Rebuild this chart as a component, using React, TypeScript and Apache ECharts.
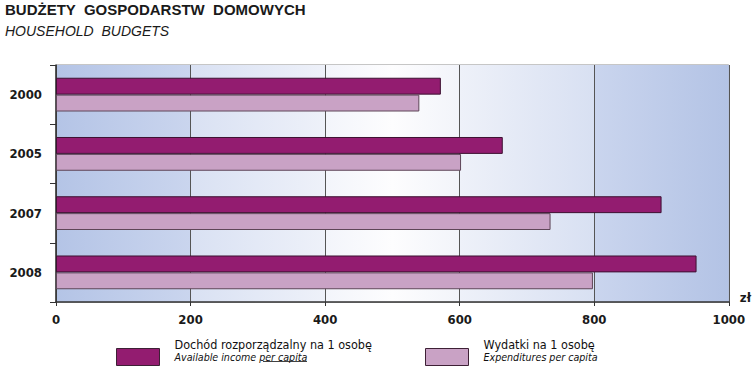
import React, { useEffect, useRef } from "react";
import * as echarts from "echarts";

const years = ["2000", "2005", "2007", "2008"];
const incomeName = "Dochód rozporządzalny na 1 osobę";
const expenseName = "Wydatki na 1 osobę";
const income = [572, 664, 900, 952];
const expenditures = [540, 602, 735, 798];
const xMin = 0;
const xMax = 1000;
const xStep = 200;

const NARROW = "'DejaVu Sans Condensed', 'Liberation Sans Narrow', sans-serif";
const SANS = "'Liberation Sans', Arial, sans-serif";

const grad = (stops: [number, string][]) =>
  new echarts.graphic.LinearGradient(
    0, 0, 1, 0,
    stops.map(([offset, color]) => ({ offset, color }))
  );

export default function App() {
  const ref = useRef<HTMLDivElement>(null);
  useEffect(() => {
    if (!ref.current) return;
    const chart = echarts.init(ref.current, undefined, { renderer: "svg" });
    const legendRich = {
      a: { fontFamily: NARROW, fontSize: 12.5, lineHeight: 13, color: "#111", padding: [0, 0, 0, 10] },
      b: { fontFamily: NARROW, fontSize: 10.6, fontStyle: "italic", lineHeight: 11, color: "#111", padding: [0, 0, 0, 10] },
      c: { fontFamily: NARROW, fontSize: 10.6, fontStyle: "italic", lineHeight: 11, color: "#111" },
    };
    const legendBase = {
      orient: "horizontal",
      icon: "rect",
      itemWidth: 43,
      itemHeight: 17,
      top: 338,
      padding: 0,
      itemStyle: { borderColor: "#3d2035", borderWidth: 1 },
      textStyle: { rich: legendRich, padding: [0, 0, 14, 0] },
      selectedMode: false,
    };
    chart.setOption({
      animation: false,
      backgroundColor: "#ffffff",
      title: {
        text: "BUDŻETY  GOSPODARSTW  DOMOWYCH",
        subtext: "HOUSEHOLD  BUDGETS",
        left: 0,
        top: -3,
        itemGap: 7,
        textStyle: { fontFamily: SANS, fontSize: 15, fontWeight: "bold", color: "#1a1a1a" },
        subtextStyle: { fontFamily: SANS, fontSize: 14, fontStyle: "italic", color: "#1a1a1a" },
      },
      legend: [
        {
          ...legendBase,
          left: 116,
          data: [incomeName],
          formatter: (n: string) => `{a|${n}}\n{b|Available income }{c|per capita}`,
        },
        {
          ...legendBase,
          left: 425,
          data: [expenseName],
          formatter: (n: string) => `{a|${n}}\n{b|Expenditures per capita}`,
        },
      ],
      graphic: [
        {
          type: "line",
          silent: true,
          shape: { x1: 263, y1: 361.5, x2: 307, y2: 361.5 },
          style: { stroke: "#111", lineWidth: 0.8 },
        },
      ],
      grid: {
        left: 56,
        right: 21,
        top: 65,
        bottom: 70,
        show: true,
        borderColor: "#8c8c8c",
        borderWidth: 1,
        backgroundColor: "transparent",
      },
      xAxis: {
        type: "value",
        min: xMin,
        max: xMax,
        interval: xStep,
        name: "zł",
        nameLocation: "end",
        nameGap: 11,
        nameTextStyle: {
          fontFamily: NARROW,
          fontSize: 13,
          fontWeight: "bold",
          color: "#1a1a1a",
          verticalAlign: "bottom",
          lineHeight: 9,
        },
        axisLine: { show: true, lineStyle: { color: "#333", width: 1.5 } },
        axisTick: { show: true, length: 4, lineStyle: { color: "#333" } },
        axisLabel: {
          fontFamily: NARROW,
          fontSize: 13,
          fontWeight: "bold",
          color: "#1a1a1a",
          margin: 11,
          formatter: (v: number) => String(v),
        },
        splitLine: { show: true, lineStyle: { color: "#555", width: 1 } },
        splitArea: {
          show: true,
          areaStyle: {
            color: [
              grad([[0, "#b4c4e6"], [1, "#cad5ee"]]),
              grad([[0, "#d9e1f3"], [1, "#eef1f9"]]),
              grad([[0, "#f3f5fb"], [0.5, "#fdfdfe"], [1, "#f2f4fa"]]),
              grad([[0, "#eef1f9"], [1, "#d8e0f2"]]),
              grad([[0, "#cad5ee"], [1, "#b3c3e5"]]),
            ],
          },
        },
      },
      yAxis: {
        type: "category",
        data: years,
        inverse: true,
        axisLine: { show: true, lineStyle: { color: "#333", width: 1.5 } },
        axisTick: { show: true, length: 6, lineStyle: { color: "#333" } },
        axisLabel: {
          fontFamily: NARROW,
          fontSize: 13,
          fontWeight: "bold",
          color: "#1a1a1a",
          margin: 14,
        },
        splitLine: { show: false },
      },
      series: [
        {
          name: incomeName,
          type: "bar",
          data: income,
          barGap: "0%",
          barCategoryGap: "43%",
          itemStyle: { color: "#931c70", borderColor: "#3d1232", borderWidth: 1 },
        },
        {
          name: expenseName,
          type: "bar",
          data: expenditures,
          itemStyle: { color: "#c9a2c5", borderColor: "#5e4658", borderWidth: 1 },
        },
      ],
    });
    return () => chart.dispose();
  }, []);
  return (
    <div
      ref={ref}
      style={{ position: "fixed", left: 0, top: 0, width: 754, height: 372 }}
    />
  );
}
